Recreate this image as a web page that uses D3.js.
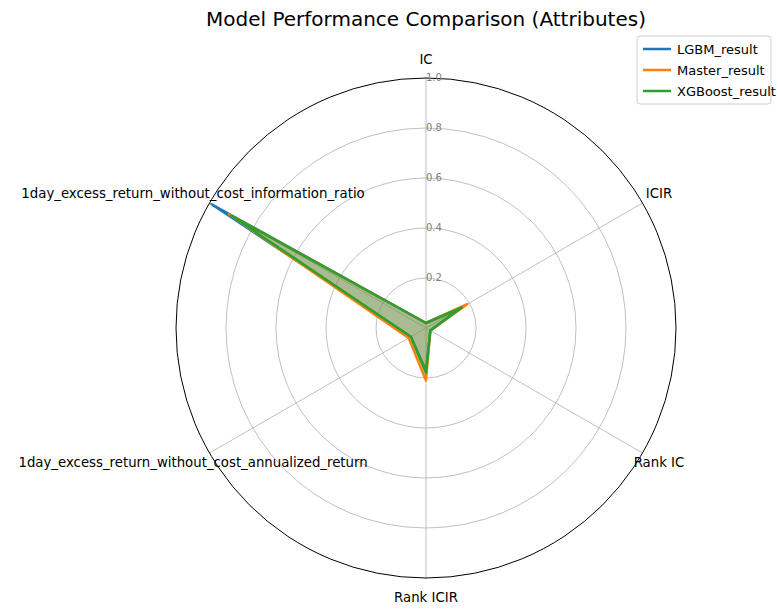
<!DOCTYPE html>
<html><head><meta charset="utf-8">
<script src="https://cdn.jsdelivr.net/npm/d3@7"></script>
<style>body{margin:0;background:#fff}text{font-family:"DejaVu Sans",sans-serif}</style>
</head><body>
<svg id="chart" width="778" height="616"></svg>
<script>
const axesLabels = ["IC", "ICIR", "Rank IC", "Rank ICIR",
  "1day_excess_return_without_cost_annualized_return",
  "1day_excess_return_without_cost_information_ratio"];
const seriesNames = ["LGBM_result", "Master_result", "XGBoost_result"];
const lgbmValues = [0.02, 0.16, 0.02, 0.17, 0.07, 0.99];
const masterValues = [0.02, 0.19, 0.02, 0.21, 0.08, 0.91];
const xgbValues = [0.02, 0.165, 0.02, 0.18, 0.07, 0.90];
const ticks = [0.2, 0.4, 0.6, 0.8, 1.0];
const colors = ["#1f77b4", "#ff7f0e", "#2ca02c"];
const allValues = [lgbmValues, masterValues, xgbValues];

const cx = 426, cy = 328, R = 250;
const svg = d3.select("#chart");
const r = d3.scaleLinear().domain([0, 1]).range([0, R]);
const ang = d3.scaleLinear().domain([0, axesLabels.length]).range([0, 2 * Math.PI]);
const g = svg.append("g").attr("transform", `translate(${cx},${cy})`);

ticks.slice(0, -1).forEach(t => g.append("circle").attr("r", r(t))
  .attr("fill", "none").attr("stroke", "#b0b0b0").attr("stroke-width", 0.8));
axesLabels.forEach((l, i) => {
  const a = ang(i);
  g.append("line").attr("x2", R * Math.sin(a)).attr("y2", -R * Math.cos(a))
    .attr("stroke", "#b0b0b0").attr("stroke-width", 0.8);
  const lr = R + 19;
  const x = lr * Math.sin(a), y = -lr * Math.cos(a);
  g.append("text").attr("x", x).attr("y", y).attr("dy", "0.35em")
    .attr("text-anchor", "middle").attr("font-size", 13.3).text(l);
});
g.append("circle").attr("r", R).attr("fill", "none").attr("stroke", "#000").attr("stroke-width", 1);
ticks.forEach(t => g.append("text").attr("x", 0).attr("y", -r(t) + 3).attr("font-size", 10)
  .attr("fill", "#808080").text(t.toFixed(1)));

const line = d3.lineRadial().angle((d, i) => ang(i)).radius(d => r(d)).curve(d3.curveLinearClosed);
allValues.forEach((vals, k) => {
  g.append("path").attr("d", line(vals)).attr("fill", colors[k]).attr("fill-opacity", 0.25)
    .attr("stroke", colors[k]).attr("stroke-width", 2.5).attr("stroke-linejoin", "round");
});

svg.append("text").attr("x", 426).attr("y", 26).attr("text-anchor", "middle")
  .attr("font-size", 20).text("Model Performance Comparison (Attributes)");

const lg = svg.append("g").attr("transform", "translate(637,36)");
lg.append("rect").attr("width", 134).attr("height", 68).attr("rx", 3).attr("fill", "#fff")
  .attr("stroke", "#d0d0d0");
seriesNames.forEach((n, i) => {
  const y = 13 + i * 21;
  lg.append("line").attr("x1", 6).attr("x2", 34).attr("y1", y).attr("y2", y)
    .attr("stroke", colors[i]).attr("stroke-width", 2.5);
  lg.append("text").attr("x", 40).attr("y", y).attr("dy", "0.35em").attr("font-size", 13).text(n);
});
</script>
</body></html>
